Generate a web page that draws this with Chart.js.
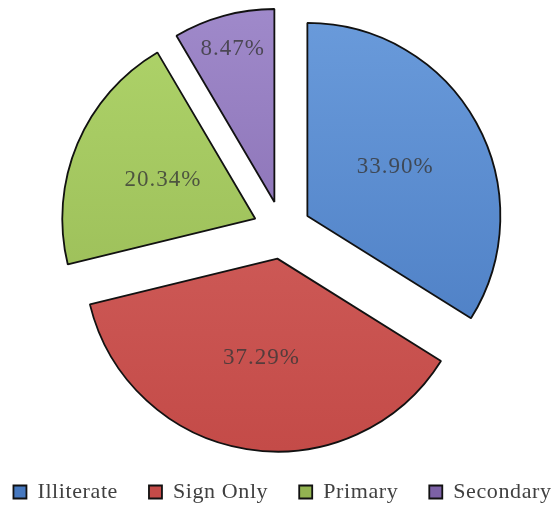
<!DOCTYPE html>
<html>
<head>
<meta charset="utf-8">
<script src="https://cdn.jsdelivr.net/npm/chart.js@4"></script>
<style>
    html, body { margin: 0; padding: 0; background: #fff; }
    #wrap { width: 560px; height: 506px; }
</style>
</head>
<body>
<div id="wrap"><canvas id="pieChart" width="560" height="506"></canvas></div>
<script>
// Education level shares (%)
const categories = ['Illiterate', 'Sign Only', 'Primary', 'Secondary'];
const shares = [33.90, 37.29, 20.34, 8.47];

// light / dark ends of each slice gradient
const lightColors = ['#6a9bdb', '#d76966', '#afd46a', '#9f89ca'];
const darkColors = ['#4678bf', '#c44b48', '#93b451', '#7c61a6'];

const EXPLODE = 29;
const SHIFT_X = 2; // pie sits a little right of the canvas centre

// Gradient fill per slice, top to bottom of the chart area
function sliceFill(context) {
    const i = context.dataIndex;
    const area = context.chart.chartArea;
    if (!area) return darkColors[i];
    const g = context.chart.ctx.createLinearGradient(0, 10, 0, 450);
    g.addColorStop(0, lightColors[i]);
    g.addColorStop(1, darkColors[i]);
    return g;
}

// Push every slice out along its bisector
const explodePlugin = {
    id: 'explode',
    beforeLayout(chart) {
        chart.ctx.letterSpacing = '0.6px';
    },
    afterDatasetUpdate(chart, args) {
        args.meta.data.forEach(arc => {
            const mid = (arc.startAngle + arc.endAngle) / 2;
            arc.x += Math.cos(mid) * EXPLODE + SHIFT_X;
            arc.y += Math.sin(mid) * EXPLODE;
        });
    }
};

// Percentage text inside each slice
const sliceLabels = {
    id: 'sliceLabels',
    afterDatasetsDraw(chart) {
        const ctx = chart.ctx;
        const meta = chart.getDatasetMeta(0);
        ctx.save();
        ctx.font = '23px "Liberation Serif"';
        ctx.letterSpacing = '1px';
        ctx.fillStyle = 'rgba(55, 55, 55, 0.8)';
        ctx.textAlign = 'center';
        ctx.textBaseline = 'middle';
        meta.data.forEach((arc, i) => {
            const mid = (arc.startAngle + arc.endAngle) / 2;
            const span = arc.endAngle - arc.startAngle;
            const k = span < 0.6 ? 0.82 : 0.52;
            const x = arc.x + Math.cos(mid) * arc.outerRadius * k;
            const y = arc.y + Math.sin(mid) * arc.outerRadius * k;
            ctx.fillText(shares[i].toFixed(2) + '%', x, y);
        });
        ctx.restore();
    }
};

const ctx = document.getElementById('pieChart').getContext('2d');
new Chart(ctx, {
    type: 'pie',
    data: {
        labels: categories,
        datasets: [{
            data: shares,
            backgroundColor: sliceFill,
            borderColor: '#111',
            borderWidth: 1.8
        }]
    },
    options: {
        responsive: false,
        animation: false,
        devicePixelRatio: 1,
        radius: 193,
        layout: {
            padding: { left: -20, right: -25, top: 10, bottom: -7 }
        },
        plugins: {
            legend: {
                position: 'bottom',
                labels: {
                    boxWidth: 13,
                    boxHeight: 13,
                    padding: 31,
                    color: '#404040',
                    font: { family: '"Liberation Serif"', size: 22 }
                }
            },
            tooltip: { enabled: false }
        }
    },
    plugins: [explodePlugin, sliceLabels]
});
</script>
</body>
</html>
